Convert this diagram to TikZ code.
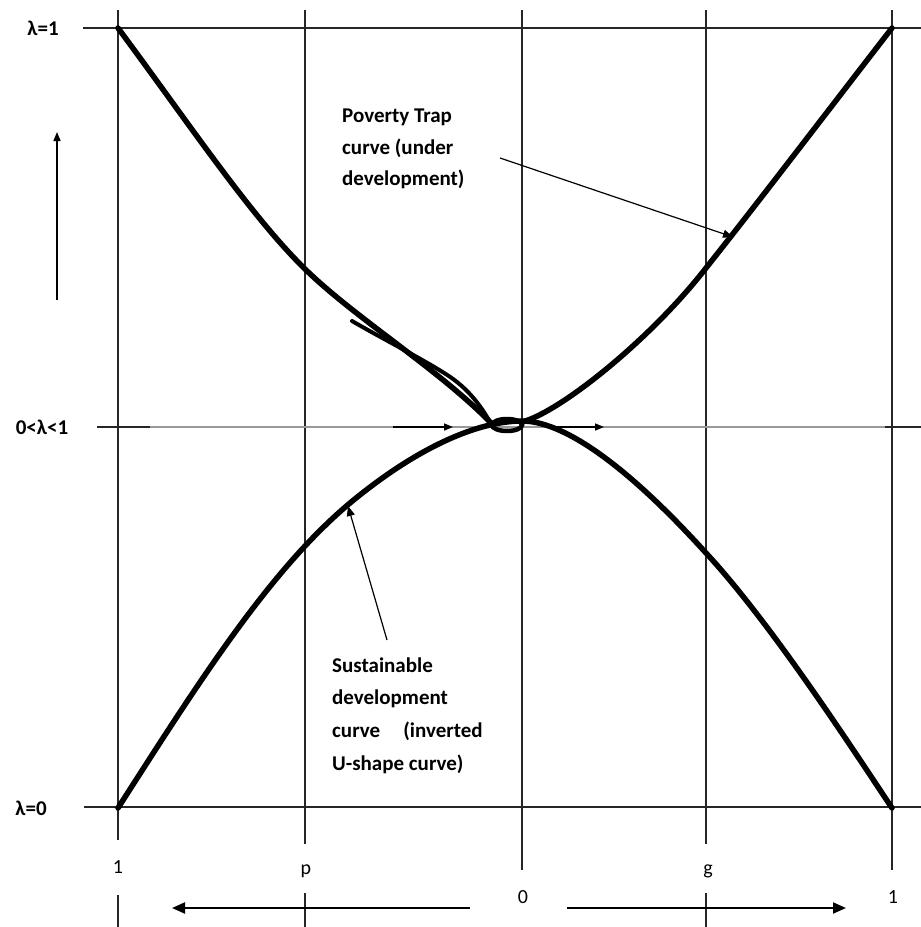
\documentclass[tikz,border=0pt]{standalone}
\usepackage{fontspec}
\setmainfont{Carlito}
\usetikzlibrary{arrows.meta}
\begin{document}
\begin{tikzpicture}[x=1pt,y=-1pt,
  gridline/.style={line width=1.4pt, black!85},
  grayline/.style={line width=1.6pt, black!40},
  thickcurve/.style={line width=5.5pt, line cap=round, line join=round},
  lbl/.style={font=\fontsize{21}{25}\selectfont\bfseries, inner sep=0pt, anchor=base west},
  axlbl/.style={font=\fontsize{21}{25}\selectfont\bfseries, inner sep=0pt, anchor=base},
  numlbl/.style={font=\fontsize{20}{24}\selectfont, inner sep=0pt, anchor=base},
  pointer/.style={line width=1.2pt, -{Triangle[length=10pt,width=8pt]}},
  midarrow/.style={line width=1.6pt, -{Triangle[length=9pt,width=7pt]}},
  bigarrow/.style={line width=2pt, -{Triangle[length=13pt,width=11pt]}},
]
\fill[white] (0,0) rectangle (921,927);
\useasboundingbox (0,0) rectangle (921,927);

% grid coordinates
\coordinate (v1t) at (118,10);  \coordinate (v1a) at (118,840); \coordinate (v1b) at (118,895); \coordinate (v1e) at (118,927);
\coordinate (v2t) at (305,10);  \coordinate (v2a) at (305,844); \coordinate (v2b) at (305,893); \coordinate (v2e) at (305,927);
\coordinate (v3t) at (522,10);  \coordinate (v3a) at (522,870);
\coordinate (v4t) at (706,10);  \coordinate (v4a) at (706,844); \coordinate (v4b) at (706,893); \coordinate (v4e) at (706,927);
\coordinate (v5t) at (892,10);  \coordinate (v5a) at (892,870);
\coordinate (h1l) at (83,28);   \coordinate (h1r) at (921,28);
\coordinate (h0l) at (84,807);  \coordinate (h0r) at (921,807);
\coordinate (hml) at (97,427);  \coordinate (hm1) at (150,427); \coordinate (hm2) at (885,427); \coordinate (hmr) at (921,427);

\draw[gridline] (v1t) -- (v1a) (v1b) -- (v1e);
\draw[gridline] (v2t) -- (v2a) (v2b) -- (v2e);
\draw[gridline] (v3t) -- (v3a);
\draw[gridline] (v4t) -- (v4a) (v4b) -- (v4e);
\draw[gridline] (v5t) -- (v5a);
\draw[gridline] (h1l) -- (h1r);
\draw[gridline] (h0l) -- (h0r);
\draw[grayline] (hm1) -- (hm2);
\draw[gridline] (hml) -- (hm1) (hm2) -- (hmr);

% poverty trap curve
\draw[thickcurve] (118,28) .. controls (190,125) and (250,215) .. (305,269)
                           .. controls (355,318) and (440,370) .. (492,424);
\draw[line width=4pt, line cap=round] (352,321) .. controls (390,343) and (440,368) .. (457,382)
                                      .. controls (472,394) and (482,408) .. (490,422);
\draw[line width=4.5pt] (507,425) ellipse[x radius=15, y radius=6];
\draw[thickcurve] (522,422) .. controls (560,412) and (650,340) .. (706,268)
                           .. controls (760,200) and (840,95) .. (892,28);

% sustainable development curve
\draw[thickcurve] (118,808) .. controls (200,680) and (270,570) .. (350,503)
                           .. controls (420,445) and (480,421) .. (522,421)
                           .. controls (560,421) and (620,458) .. (706,553)
                           .. controls (770,622) and (850,745) .. (892,808);

% arrows on middle line
\coordinate (ml1) at (393,427); \coordinate (ml2) at (453,427);
\coordinate (mr1) at (545,427); \coordinate (mr2) at (604,427);
\draw[midarrow] (ml1) -- (ml2);
\draw[midarrow] (mr1) -- (mr2);

% left vertical arrow
\coordinate (va1) at (57,300); \coordinate (va2) at (57,132);
\draw[midarrow] (va1) -- (va2);

% bottom arrows
\coordinate (bl1) at (470,908); \coordinate (bl2) at (172,908);
\coordinate (br1) at (567,908); \coordinate (br2) at (846,908);
\draw[bigarrow] (bl1) -- (bl2);
\draw[bigarrow] (br1) -- (br2);

% axis labels
\node[axlbl] (l1) at (43,35) {λ=1};
\node[axlbl] (lm) at (42,434) {0<λ<1};
\node[axlbl] (l0) at (31,815) {λ=0};

\node[numlbl] (n1) at (118,873) {1};
\node[numlbl] (np) at (306,874) {p};
\node[numlbl] (n0) at (523,903) {0};
\node[numlbl] (ng) at (708,874) {g};
\node[numlbl] (n1r) at (893,903) {1};

% poverty trap label
\node[lbl] (pt1) at (342,122) {Poverty Trap};
\node[lbl] (pt2) at (342,154) {curve (under};
\node[lbl] (pt3) at (342,185) {development)};
\coordinate (ptA) at (500,158); \coordinate (ptB) at (733,237);
\draw[pointer] (ptA) -- (ptB);

% sustainable label
\node[lbl] (sd1) at (332,672) {Sustainable};
\node[lbl] (sd2) at (332,704) {development};
\node[lbl] (sd3) at (332,737) {curve\hspace{1.1em}(inverted};
\node[lbl] (sd4) at (332,770) {U-shape curve)};
\coordinate (sdA) at (387,640); \coordinate (sdB) at (348,506);
\draw[pointer] (sdA) -- (sdB);
\end{tikzpicture}
\end{document}
